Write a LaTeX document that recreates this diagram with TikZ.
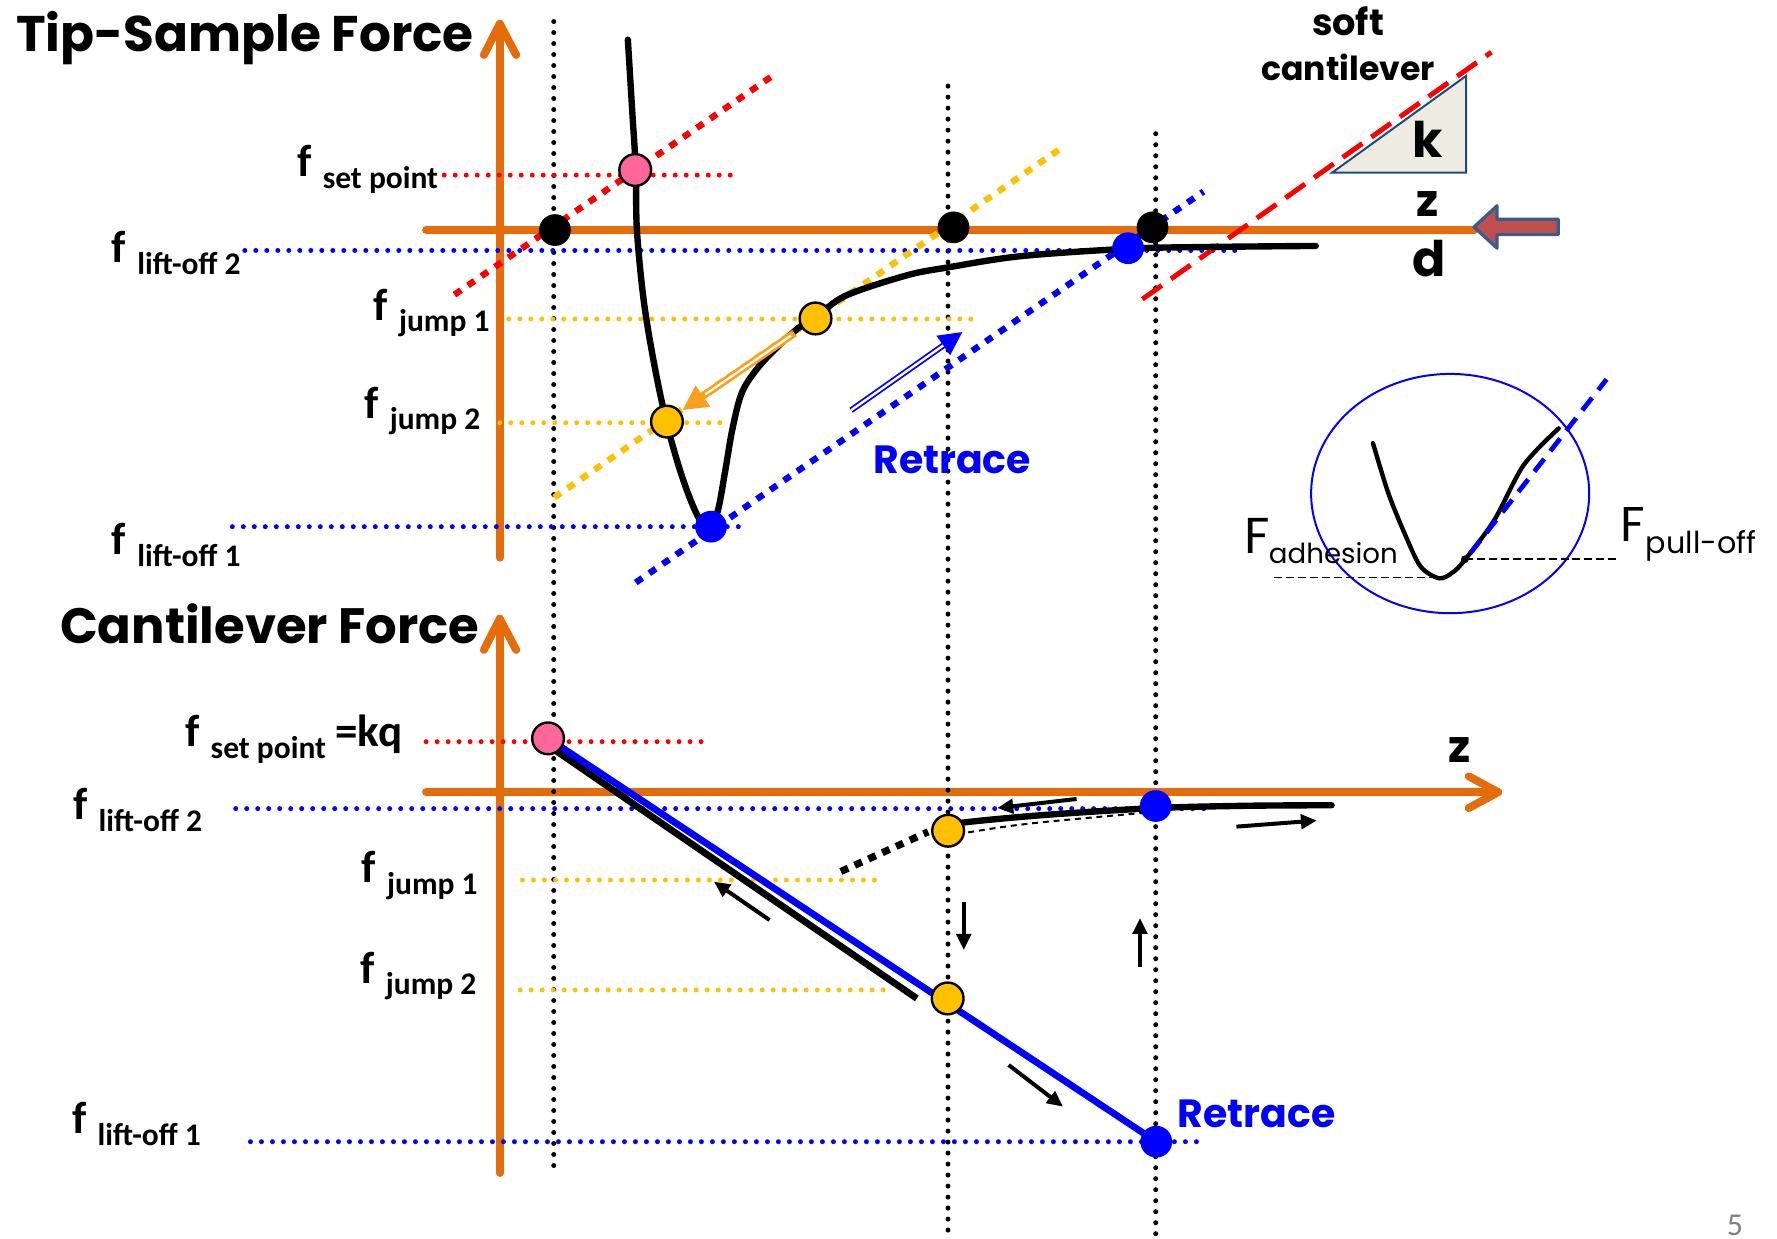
\documentclass[tikz,border=0pt]{standalone}
\usepackage{fontspec}
\usepackage{graphicx}
\usetikzlibrary{arrows.meta}
\newfontfamily\comic{Poppins}
\newfontfamily\calib{Carlito}
\definecolor{axorange}{RGB}{228,108,10}
\definecolor{gold}{RGB}{255,192,0}
\definecolor{pinkc}{RGB}{255,102,153}
\definecolor{arrorange}{RGB}{250,160,30}
\definecolor{triface}{RGB}{238,236,225}
\definecolor{triedge}{RGB}{31,73,125}
\definecolor{bafill}{RGB}{192,80,77}
\definecolor{baedge}{RGB}{56,93,138}
\newcommand\bigf[1]{{\calib\bfseries\fontsize{11.3}{13}\selectfont #1}}
\newcommand\flab[1]{\bigf{f}\hspace{2.8pt}\raisebox{-2.85pt}{\calib\bfseries\fontsize{7.9}{9}\selectfont #1}}
\tikzset{
  axisline/.style={axorange, line width=2pt, line cap=round, line join=round},
  dotline/.style={line width=1.25pt, dash pattern=on 0pt off 2.76pt, line cap=round},
  sqdash/.style={line width=1.6pt, dash pattern=on 2pt off 2.1pt},
  blackcurve/.style={line width=1.6pt, line cap=round, line join=round},
  bigdot/.style={circle, inner sep=0pt, minimum size=0.28cm},
  ringdot/.style={bigdot, draw=black, line width=0.6pt},
  labnode/.style={anchor=base west, inner sep=0pt},
  smallarr/.style={line width=1pt, -{Triangle[length=4pt,width=3.6pt]}},
}
\begin{document}
\begin{tikzpicture}[x=0.01cm,y=-0.01cm]
\useasboundingbox (0,0) rectangle (1568,1093);
% ---------- axes ----------
\draw[axisline] (441,492) -- (441,21);
\draw[axisline] (427,48.5) -- (441,21) -- (455.5,48.5);
\draw[axisline] (376,203) -- (1301,203);
\draw[axisline] (441,1035) -- (441,546);
\draw[axisline] (427,573.5) -- (441,546) -- (455.5,573.5);
\draw[axisline] (376,699) -- (1322,699);
\draw[axisline] (1296,685) -- (1322,699) -- (1296,713);
% ---------- vertical dotted guides ----------
\draw[dotline] (488.6,19) -- (488.6,1033);
\draw[dotline] (836.5,76) -- (836.5,1090);
\draw[dotline] (1019.8,118) -- (1019.8,1090);
% ---------- horizontal dotted levels (top) ----------
\draw[dotline, red] (392,154.5) -- (645,154.5);
\draw[dotline, blue] (216,221) -- (1095,221);
\draw[dotline, gold] (449,281.5) -- (865,281.5);
\draw[dotline, gold] (441,373) -- (644,373);
\draw[dotline, blue] (205,464.7) -- (660,464.7);
% ---------- horizontal dotted levels (bottom) ----------
\draw[dotline, red] (376,654.4) -- (628,654.4);
\draw[dotline, blue] (208,713.5) -- (1069,713.5);
\draw[dotline, gold] (461,776.5) -- (781,776.5);
\draw[dotline, gold] (459,873.5) -- (780,873.5);
\draw[dotline, blue] (221,1007.4) -- (1063,1007.4);
% ---------- stiffness lines ----------
\draw[sqdash, red] (401,260) -- (683,66);
\draw[sqdash, gold] (489,439) -- (934.5,132);
\draw[sqdash, blue] (561,514) -- (1062,169);
% triangle + soft cantilever line
\draw[triedge, fill=triface, line width=0.5pt] (1175.3,152.4) -- (1293.6,152.4) -- (1293.6,67) -- cycle;
\draw[red, line width=1.25pt, dash pattern=on 6pt off 2.8pt] (1008,264) -- (1316,46);
% block arrow
\draw[baedge, fill=bafill, line width=0.8pt, line join=round] (1300.6,200.3) -- (1321,181.5) -- (1321,193.5) -- (1375,193.5) -- (1375,207) -- (1321,207) -- (1321,219) -- cycle;
% ---------- tip-sample force curve ----------
\draw[blackcurve] plot[smooth, tension=0.55] coordinates {(554,35) (558,100) (561,150) (562,203) (568,265) (577,320) (588,372) (601,418) (614,452) (624,466) (633,452) (640,415) (646,380) (654,348) (666,328) (683,309) (705,289) (720,280) (746,261) (800,243) (836,236) (901,226) (995,219.5) (1059,218) (1161,217)};
% jump arrow (orange) and retrace arrow (blue)
\draw[arrorange, line width=1.9pt, -{Triangle[length=6.3pt,width=6pt]}] (701,294) -- (602,362);
\draw[white, line width=0.55pt, shorten >=7pt, shorten <=1pt] (701,294) -- (602,362);
\draw[blue, line width=1.5pt, -{Triangle[length=6pt,width=5.5pt]}] (751,362) -- (849.6,292.7);
\draw[white, line width=0.6pt, shorten >=6pt] (751,362) -- (849.6,292.7);
% ---------- top circles ----------
\node[bigdot, fill=black] (b1) at (489.7,203) {};
\node[bigdot, fill=black] (b2) at (841.4,200.6) {};
\node[bigdot, fill=black] (b3) at (1017,200.6) {};
\node[bigdot, fill=blue] (bl1) at (995.4,219) {};
\node[bigdot, fill=blue] (bl2) at (627.4,464.7) {};
\node[ringdot, fill=pinkc] (p1) at (560.5,150) {};
\node[ringdot, fill=gold] (j1) at (719.6,281) {};
\node[ringdot, fill=gold] (j2) at (588.5,372) {};
% ---------- inset ----------
\draw[blue, line width=0.5pt] (1279.6,435.5) ellipse [x radius=1.226cm, y radius=1.055cm];
\draw[line width=0.4pt, dash pattern=on 2pt off 1pt] (1124,509.7) -- (1270,509.7);
\draw[line width=0.4pt, dash pattern=on 2pt off 1pt] (1292.6,493.5) -- (1429,493.5);
\draw[line width=1.1pt, line cap=round] plot[smooth] coordinates {(1211.5,391) (1225,435) (1240.6,473.5) (1253.6,500) (1269.9,510.3) (1282,505) (1292.6,494) (1318.6,458.8) (1344.5,410.3) (1375.4,378)};
\draw[blue, line width=1.2pt, dash pattern=on 4pt off 2.5pt] (1297.5,488) -- (1417.6,334.7);
\node[circle, fill=black, inner sep=0pt, minimum size=0.07cm] (pd) at (1292.6,493.5) {};
% ---------- cantilever force (bottom) ----------
\draw[line width=1.7pt] (487,660) -- (809,881);
\draw[blue, line width=1.7pt] (483.6,651.5) -- (1020.3,1007.4);
\draw[blackcurve] plot[smooth] coordinates {(836.6,731) (848.5,726) (923,719) (1019.8,713) (1100,711) (1175,710.5)};
\draw[line width=0.5pt, dash pattern=on 1.5pt off 1.2pt] (845,736) .. controls (900,727) .. (1012,717);
\draw[line width=1.8pt, dash pattern=on 2pt off 1.8pt] (742,769) -- (819,734);
\node[ringdot, fill=pinkc] (p2) at (483.6,651.5) {};
\node[ringdot, fill=gold] (j3) at (836.6,733) {};
\node[ringdot, fill=gold] (j4) at (836.2,881) {};
\node[bigdot, fill=blue] (bl3) at (1019.8,711.2) {};
\node[bigdot, fill=blue] (bl4) at (1020.3,1007.4) {};
\draw[smallarr] (950,705) -- (880,713);
\draw[smallarr] (1091,729.4) -- (1162,724);
\draw[smallarr] (679,811.8) -- (630,778);
\draw[smallarr] (850.4,795.6) -- (850.4,838.2);
\draw[smallarr] (1005.9,853) -- (1005.9,810);
\draw[smallarr] (890,939.7) -- (938,976.5);
% ---------- texts ----------
\node[labnode] (title1) at (13.5,45.6) {\resizebox{4.035cm}{!}{\comic\bfseries Tip-Sample Force}};
\node[labnode] (title2) at (52.3,567.5) {\resizebox{3.697cm}{!}{\comic\bfseries Cantilever Force}};
\node[labnode, text=blue] (rt1) at (770,417.6) {\resizebox{1.39cm}{!}{\comic\bfseries Retrace}};
\node[labnode, text=blue] (rt2) at (1038.6,994.7) {\resizebox{1.39cm}{!}{\comic\bfseries Retrace}};
\node[anchor=base, inner sep=0pt] (soft) at (1189.5,31) {\resizebox{0.635cm}{!}{\comic\bfseries soft}};
\node[anchor=base, inner sep=0pt] (cant) at (1189.5,70.6) {\resizebox{1.53cm}{!}{\comic\bfseries cantilever}};
\node[anchor=base, inner sep=0pt] (kk) at (1260,139) {\resizebox{!}{0.32cm}{\comic\bfseries k}};
\node[anchor=base, inner sep=0pt] (zz) at (1260,191) {\resizebox{!}{0.22cm}{\comic\bfseries z}};
\node[anchor=base, inner sep=0pt] (dd) at (1261,244) {\resizebox{!}{0.32cm}{\comic\bfseries d}};
\node[anchor=base, inner sep=0pt] (z2) at (1288,673) {\resizebox{!}{0.22cm}{\comic\bfseries z}};
\node[labnode] (fa) at (1097,488.3) {\resizebox{!}{0.31cm}{\comic F}};
\node[labnode] (fas) at (1119,497) {\resizebox{1.136cm}{!}{\comic adhesion}};
\node[labnode] (fp) at (1429,478) {\resizebox{!}{0.30cm}{\comic F}};
\node[labnode] (fps) at (1451.6,488) {\resizebox{0.974cm}{!}{\comic pull-off}};
% f labels top
\node[labnode] (l1) at (261.7,156) {\flab{set point}};
\node[labnode] (l2) at (98,232) {\flab{lift-off 2}};
\node[labnode] (l3) at (329,282.5) {\flab{jump 1}};
\node[labnode] (l4) at (320.8,369) {\flab{jump 2}};
\node[labnode] (l5) at (98,489.7) {\flab{lift-off 1}};
% f labels bottom
\node[labnode] (m1) at (162.8,659) {\flab{set point}\hspace{2.4pt}\bigf{=kq}};
\node[labnode] (m2) at (64,723.5) {\flab{lift-off 2}};
\node[labnode] (m3) at (318.5,779) {\flab{jump 1}};
\node[labnode] (m4) at (317.4,867.7) {\flab{jump 2}};
\node[labnode] (m5) at (63,1000.6) {\flab{lift-off 1}};
\node[anchor=south, inner sep=0pt, text=gray] (pg) at (1531,1091) {\calib\fontsize{8}{9}\selectfont 5};
\end{tikzpicture}
\end{document}
